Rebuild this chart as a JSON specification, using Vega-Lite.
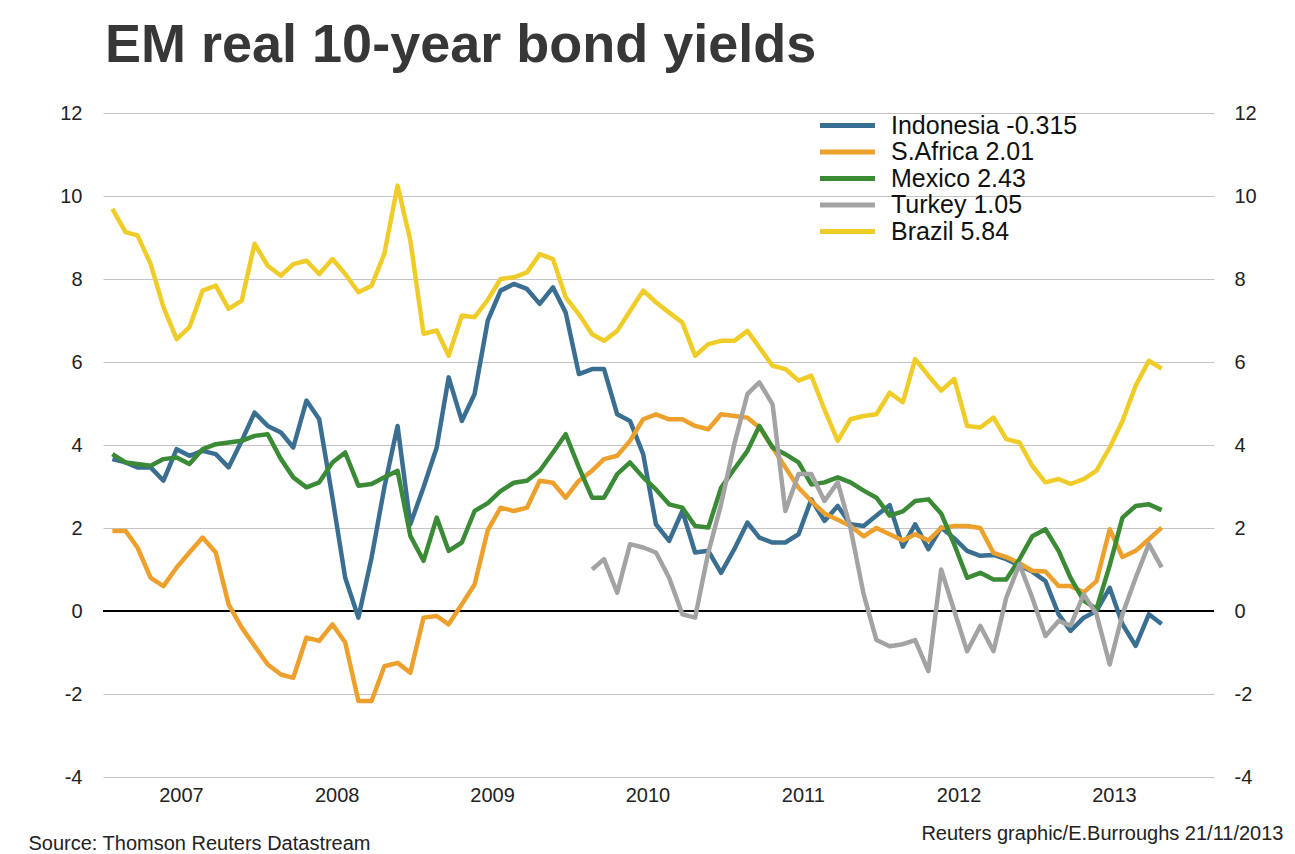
{
  "$schema": "https://vega.github.io/schema/vega-lite/v6.json",
  "width": 1111,
  "height": 664,
  "autosize": {"type": "none"},
  "padding": {"left": 103, "top": 113, "right": 81, "bottom": 77},
  "background": "white",
  "config": {"view": {"stroke": null}, "font": "Liberation Sans"},
  "title": {
    "text": "EM real 10-year bond yields",
    "anchor": "start",
    "frame": "group",
    "font": "Liberation Sans",
    "fontSize": 54,
    "fontWeight": "bold",
    "color": "#373737",
    "baseline": "alphabetic",
    "offset": -13,
    "dx": 2
  },
  "data": {
    "values": [
      {"d": "2007-01-15", "Indonesia": 3.66, "SAfrica": 1.93, "Mexico": 3.78, "Turkey": null, "Brazil": 9.69},
      {"d": "2007-02-15", "Indonesia": 3.58, "SAfrica": 1.93, "Mexico": 3.58, "Turkey": null, "Brazil": 9.13},
      {"d": "2007-03-15", "Indonesia": 3.46, "SAfrica": 1.53, "Mexico": 3.54, "Turkey": null, "Brazil": 9.05},
      {"d": "2007-04-15", "Indonesia": 3.46, "SAfrica": 0.8, "Mexico": 3.5, "Turkey": null, "Brazil": 8.36},
      {"d": "2007-05-15", "Indonesia": 3.14, "SAfrica": 0.6, "Mexico": 3.66, "Turkey": null, "Brazil": 7.32},
      {"d": "2007-06-15", "Indonesia": 3.9, "SAfrica": 1.05, "Mexico": 3.7, "Turkey": null, "Brazil": 6.55},
      {"d": "2007-07-15", "Indonesia": 3.74, "SAfrica": 1.41, "Mexico": 3.54, "Turkey": null, "Brazil": 6.84},
      {"d": "2007-08-15", "Indonesia": 3.86, "SAfrica": 1.77, "Mexico": 3.9, "Turkey": null, "Brazil": 7.72},
      {"d": "2007-09-15", "Indonesia": 3.78, "SAfrica": 1.41, "Mexico": 4.02, "Turkey": null, "Brazil": 7.84},
      {"d": "2007-10-15", "Indonesia": 3.46, "SAfrica": 0.16, "Mexico": 4.06, "Turkey": null, "Brazil": 7.28},
      {"d": "2007-11-15", "Indonesia": 4.1, "SAfrica": -0.4, "Mexico": 4.1, "Turkey": null, "Brazil": 7.48},
      {"d": "2007-12-15", "Indonesia": 4.78, "SAfrica": -0.84, "Mexico": 4.22, "Turkey": null, "Brazil": 8.85},
      {"d": "2008-01-15", "Indonesia": 4.46, "SAfrica": -1.29, "Mexico": 4.26, "Turkey": null, "Brazil": 8.32},
      {"d": "2008-02-15", "Indonesia": 4.3, "SAfrica": -1.53, "Mexico": 3.66, "Turkey": null, "Brazil": 8.08},
      {"d": "2008-03-15", "Indonesia": 3.94, "SAfrica": -1.61, "Mexico": 3.22, "Turkey": null, "Brazil": 8.36},
      {"d": "2008-04-15", "Indonesia": 5.07, "SAfrica": -0.64, "Mexico": 2.98, "Turkey": null, "Brazil": 8.44},
      {"d": "2008-05-15", "Indonesia": 4.62, "SAfrica": -0.72, "Mexico": 3.1, "Turkey": null, "Brazil": 8.12},
      {"d": "2008-06-15", "Indonesia": 2.73, "SAfrica": -0.32, "Mexico": 3.58, "Turkey": null, "Brazil": 8.48},
      {"d": "2008-07-15", "Indonesia": 0.8, "SAfrica": -0.76, "Mexico": 3.82, "Turkey": null, "Brazil": 8.12},
      {"d": "2008-08-15", "Indonesia": -0.16, "SAfrica": -2.17, "Mexico": 3.02, "Turkey": null, "Brazil": 7.68},
      {"d": "2008-09-15", "Indonesia": 1.29, "SAfrica": -2.17, "Mexico": 3.06, "Turkey": null, "Brazil": 7.84},
      {"d": "2008-10-15", "Indonesia": 2.98, "SAfrica": -1.33, "Mexico": 3.22, "Turkey": null, "Brazil": 8.61},
      {"d": "2008-11-15", "Indonesia": 4.46, "SAfrica": -1.25, "Mexico": 3.38, "Turkey": null, "Brazil": 10.25},
      {"d": "2008-12-15", "Indonesia": 2.09, "SAfrica": -1.49, "Mexico": 1.81, "Turkey": null, "Brazil": 8.93},
      {"d": "2009-01-15", "Indonesia": 2.98, "SAfrica": -0.16, "Mexico": 1.21, "Turkey": null, "Brazil": 6.68},
      {"d": "2009-02-15", "Indonesia": 3.94, "SAfrica": -0.12, "Mexico": 2.25, "Turkey": null, "Brazil": 6.76},
      {"d": "2009-03-15", "Indonesia": 5.63, "SAfrica": -0.32, "Mexico": 1.45, "Turkey": null, "Brazil": 6.15},
      {"d": "2009-04-15", "Indonesia": 4.58, "SAfrica": 0.16, "Mexico": 1.65, "Turkey": null, "Brazil": 7.12},
      {"d": "2009-05-15", "Indonesia": 5.23, "SAfrica": 0.64, "Mexico": 2.41, "Turkey": null, "Brazil": 7.08},
      {"d": "2009-06-15", "Indonesia": 7.0, "SAfrica": 1.95, "Mexico": 2.6, "Turkey": null, "Brazil": 7.5},
      {"d": "2009-07-15", "Indonesia": 7.72, "SAfrica": 2.49, "Mexico": 2.89, "Turkey": null, "Brazil": 8.0},
      {"d": "2009-08-15", "Indonesia": 7.88, "SAfrica": 2.41, "Mexico": 3.09, "Turkey": null, "Brazil": 8.04},
      {"d": "2009-09-15", "Indonesia": 7.76, "SAfrica": 2.49, "Mexico": 3.14, "Turkey": null, "Brazil": 8.16},
      {"d": "2009-10-15", "Indonesia": 7.4, "SAfrica": 3.14, "Mexico": 3.38, "Turkey": null, "Brazil": 8.6},
      {"d": "2009-11-15", "Indonesia": 7.8, "SAfrica": 3.09, "Mexico": 3.82, "Turkey": null, "Brazil": 8.48},
      {"d": "2009-12-15", "Indonesia": 7.19, "SAfrica": 2.73, "Mexico": 4.26, "Turkey": null, "Brazil": 7.56},
      {"d": "2010-01-15", "Indonesia": 5.71, "SAfrica": 3.14, "Mexico": 3.46, "Turkey": null, "Brazil": 7.15},
      {"d": "2010-02-15", "Indonesia": 5.83, "SAfrica": 3.38, "Mexico": 2.73, "Turkey": 1.0, "Brazil": 6.67},
      {"d": "2010-03-15", "Indonesia": 5.83, "SAfrica": 3.66, "Mexico": 2.73, "Turkey": 1.25, "Brazil": 6.51},
      {"d": "2010-04-15", "Indonesia": 4.74, "SAfrica": 3.74, "Mexico": 3.3, "Turkey": 0.44, "Brazil": 6.75},
      {"d": "2010-05-15", "Indonesia": 4.58, "SAfrica": 4.1, "Mexico": 3.58, "Turkey": 1.61, "Brazil": 7.23},
      {"d": "2010-06-15", "Indonesia": 3.78, "SAfrica": 4.62, "Mexico": 3.22, "Turkey": 1.53, "Brazil": 7.72},
      {"d": "2010-07-15", "Indonesia": 2.09, "SAfrica": 4.74, "Mexico": 2.93, "Turkey": 1.41, "Brazil": 7.44},
      {"d": "2010-08-15", "Indonesia": 1.69, "SAfrica": 4.62, "Mexico": 2.57, "Turkey": 0.8, "Brazil": 7.19},
      {"d": "2010-09-15", "Indonesia": 2.41, "SAfrica": 4.62, "Mexico": 2.49, "Turkey": -0.08, "Brazil": 6.95},
      {"d": "2010-10-15", "Indonesia": 1.41, "SAfrica": 4.46, "Mexico": 2.05, "Turkey": -0.16, "Brazil": 6.15},
      {"d": "2010-11-15", "Indonesia": 1.45, "SAfrica": 4.38, "Mexico": 2.01, "Turkey": 1.41, "Brazil": 6.43},
      {"d": "2010-12-15", "Indonesia": 0.92, "SAfrica": 4.74, "Mexico": 2.97, "Turkey": 2.57, "Brazil": 6.51},
      {"d": "2011-01-15", "Indonesia": 1.49, "SAfrica": 4.7, "Mexico": 3.42, "Turkey": 4.02, "Brazil": 6.51},
      {"d": "2011-02-15", "Indonesia": 2.13, "SAfrica": 4.66, "Mexico": 3.86, "Turkey": 5.23, "Brazil": 6.75},
      {"d": "2011-03-15", "Indonesia": 1.77, "SAfrica": 4.42, "Mexico": 4.46, "Turkey": 5.51, "Brazil": 6.35},
      {"d": "2011-04-15", "Indonesia": 1.65, "SAfrica": 3.94, "Mexico": 3.94, "Turkey": 4.98, "Brazil": 5.91},
      {"d": "2011-05-15", "Indonesia": 1.65, "SAfrica": 3.46, "Mexico": 3.78, "Turkey": 2.41, "Brazil": 5.83},
      {"d": "2011-06-15", "Indonesia": 1.85, "SAfrica": 2.97, "Mexico": 3.58, "Turkey": 3.3, "Brazil": 5.55},
      {"d": "2011-07-15", "Indonesia": 2.69, "SAfrica": 2.65, "Mexico": 3.05, "Turkey": 3.3, "Brazil": 5.67},
      {"d": "2011-08-15", "Indonesia": 2.17, "SAfrica": 2.35, "Mexico": 3.1, "Turkey": 2.65, "Brazil": 4.85},
      {"d": "2011-09-15", "Indonesia": 2.53, "SAfrica": 2.2, "Mexico": 3.22, "Turkey": 3.1, "Brazil": 4.1},
      {"d": "2011-10-15", "Indonesia": 2.09, "SAfrica": 2.05, "Mexico": 3.1, "Turkey": 2.0, "Brazil": 4.62},
      {"d": "2011-11-15", "Indonesia": 2.05, "SAfrica": 1.8, "Mexico": 2.9, "Turkey": 0.4, "Brazil": 4.7},
      {"d": "2011-12-15", "Indonesia": 2.3, "SAfrica": 2.0, "Mexico": 2.73, "Turkey": -0.7, "Brazil": 4.74},
      {"d": "2012-01-15", "Indonesia": 2.55, "SAfrica": 1.85, "Mexico": 2.3, "Turkey": -0.85, "Brazil": 5.26},
      {"d": "2012-02-15", "Indonesia": 1.55, "SAfrica": 1.7, "Mexico": 2.4, "Turkey": -0.8, "Brazil": 5.03},
      {"d": "2012-03-15", "Indonesia": 2.09, "SAfrica": 1.85, "Mexico": 2.65, "Turkey": -0.7, "Brazil": 6.07},
      {"d": "2012-04-15", "Indonesia": 1.49, "SAfrica": 1.7, "Mexico": 2.69, "Turkey": -1.45, "Brazil": 5.67},
      {"d": "2012-05-15", "Indonesia": 2.01, "SAfrica": 2.0, "Mexico": 2.35, "Turkey": 1.0, "Brazil": 5.31},
      {"d": "2012-06-15", "Indonesia": 1.75, "SAfrica": 2.05, "Mexico": 1.6, "Turkey": 0.0, "Brazil": 5.59},
      {"d": "2012-07-15", "Indonesia": 1.45, "SAfrica": 2.05, "Mexico": 0.8, "Turkey": -0.97, "Brazil": 4.46},
      {"d": "2012-08-15", "Indonesia": 1.33, "SAfrica": 2.0, "Mexico": 0.92, "Turkey": -0.36, "Brazil": 4.42},
      {"d": "2012-09-15", "Indonesia": 1.35, "SAfrica": 1.4, "Mexico": 0.76, "Turkey": -0.97, "Brazil": 4.66},
      {"d": "2012-10-15", "Indonesia": 1.25, "SAfrica": 1.3, "Mexico": 0.76, "Turkey": 0.32, "Brazil": 4.14},
      {"d": "2012-11-15", "Indonesia": 1.1, "SAfrica": 1.15, "Mexico": 1.25, "Turkey": 1.13, "Brazil": 4.06},
      {"d": "2012-12-15", "Indonesia": 0.95, "SAfrica": 0.97, "Mexico": 1.8, "Turkey": 0.32, "Brazil": 3.5},
      {"d": "2013-01-15", "Indonesia": 0.72, "SAfrica": 0.95, "Mexico": 1.97, "Turkey": -0.6, "Brazil": 3.1},
      {"d": "2013-02-15", "Indonesia": -0.08, "SAfrica": 0.6, "Mexico": 1.45, "Turkey": -0.24, "Brazil": 3.18},
      {"d": "2013-03-15", "Indonesia": -0.48, "SAfrica": 0.6, "Mexico": 0.8, "Turkey": -0.35, "Brazil": 3.06},
      {"d": "2013-04-15", "Indonesia": -0.16, "SAfrica": 0.45, "Mexico": 0.25, "Turkey": 0.4, "Brazil": 3.18},
      {"d": "2013-05-15", "Indonesia": 0.0, "SAfrica": 0.72, "Mexico": 0.05, "Turkey": -0.08, "Brazil": 3.38},
      {"d": "2013-06-15", "Indonesia": 0.56, "SAfrica": 1.97, "Mexico": 1.1, "Turkey": -1.29, "Brazil": 3.94},
      {"d": "2013-07-15", "Indonesia": -0.32, "SAfrica": 1.3, "Mexico": 2.25, "Turkey": -0.08, "Brazil": 4.58},
      {"d": "2013-08-15", "Indonesia": -0.84, "SAfrica": 1.45, "Mexico": 2.53, "Turkey": 0.8, "Brazil": 5.43},
      {"d": "2013-09-15", "Indonesia": -0.08, "SAfrica": 1.73, "Mexico": 2.57, "Turkey": 1.61, "Brazil": 6.03},
      {"d": "2013-10-15", "Indonesia": -0.315, "SAfrica": 2.01, "Mexico": 2.43, "Turkey": 1.05, "Brazil": 5.84}
    ]
  },
  "layer": [
    {
      "mark": {"type": "rule", "color": "#000000", "strokeWidth": 1.5},
      "encoding": {
        "y": {
          "datum": 0,
          "type": "quantitative",
          "scale": {"domain": [-4, 12], "nice": false, "zero": false},
          "axis": {
            "orient": "right",
            "values": [-4, -2, 0, 2, 4, 6, 8, 10, 12],
            "labelExpr": "datum.value < 0 ? '-' + abs(datum.value) : '' + datum.value",
            "grid": false,
            "domain": false,
            "ticks": false,
            "labelPadding": 20,
            "labelFontSize": 20,
            "labelColor": "#222222",
            "labelFont": "Liberation Sans",
            "title": "Reuters graphic/E.Burroughs 21/11/2013",
            "titleAngle": 0,
            "titleAlign": "right",
            "titleBaseline": "middle",
            "titleX": 69,
            "titleY": 720,
            "titleFont": "Liberation Sans",
            "titleFontSize": 20,
            "titleFontWeight": "normal",
            "titleColor": "#222222"
          }
        }
      }
    },
    {
      "transform": [
        {"fold": ["Indonesia", "SAfrica", "Mexico", "Turkey", "Brazil"], "as": ["country", "value"]}
      ],
      "mark": {"type": "line", "strokeWidth": 4.5, "strokeJoin": "round", "strokeCap": "butt"},
      "encoding": {
        "x": {
          "field": "d",
          "type": "temporal",
          "scale": {
            "type": "utc",
            "domain": [
              {"year": 2006, "month": 12, "date": 24, "utc": true},
              {"year": 2014, "month": 2, "date": 15, "utc": true}
            ]
          },
          "axis": {
            "values": [
              {"year": 2007, "month": 6, "date": 25, "utc": true},
              {"year": 2008, "month": 6, "date": 25, "utc": true},
              {"year": 2009, "month": 6, "date": 25, "utc": true},
              {"year": 2010, "month": 6, "date": 25, "utc": true},
              {"year": 2011, "month": 6, "date": 25, "utc": true},
              {"year": 2012, "month": 6, "date": 25, "utc": true},
              {"year": 2013, "month": 6, "date": 25, "utc": true}
            ],
            "labelExpr": "utcFormat(datum.value, '%Y')",
            "grid": false,
            "domain": false,
            "ticks": false,
            "labelPadding": 8,
            "labelFontSize": 20,
            "labelColor": "#222222",
            "labelFont": "Liberation Sans",
            "title": "Source: Thomson Reuters Datastream",
            "titleAnchor": "start",
            "titleAlign": "left",
            "titleBaseline": "middle",
            "titleX": -75,
            "titleY": 66,
            "titleFont": "Liberation Sans",
            "titleFontSize": 20,
            "titleFontWeight": "normal",
            "titleColor": "#222222"
          }
        },
        "y": {
          "field": "value",
          "type": "quantitative",
          "scale": {"domain": [-4, 12], "nice": false, "zero": false},
          "axis": {
            "orient": "left",
            "values": [-4, -2, 0, 2, 4, 6, 8, 10, 12],
            "labelExpr": "datum.value < 0 ? '-' + abs(datum.value) : '' + datum.value",
            "grid": true,
            "gridColor": "#c4c4c4",
            "gridWidth": 1.2,
            "domain": false,
            "ticks": false,
            "labelPadding": 21,
            "labelFontSize": 20,
            "labelColor": "#222222",
            "labelFont": "Liberation Sans",
            "title": null
          }
        },
        "color": {
          "field": "country",
          "type": "nominal",
          "scale": {
            "domain": ["Indonesia", "SAfrica", "Mexico", "Turkey", "Brazil"],
            "range": ["#3b6f92", "#eea02c", "#3a8a36", "#a3a3a3", "#f0cc28"]
          },
          "legend": {
            "orient": "none",
            "legendX": 732,
            "legendY": 0,
            "title": null,
            "padding": 0,
            "symbolType": "M-5,0H5",
            "symbolSize": 121,
            "symbolStrokeWidth": 5,
            "labelOffset": 31,
            "labelFontSize": 25,
            "labelLimit": 400,
            "labelFont": "Liberation Sans",
            "labelColor": "#111111",
            "rowPadding": 0.5,
            "labelExpr": "{'Indonesia': 'Indonesia -0.315', 'SAfrica': 'S.Africa 2.01', 'Mexico': 'Mexico 2.43', 'Turkey': 'Turkey 1.05', 'Brazil': 'Brazil 5.84'}[datum.label]"
          }
        },
        "order": {"field": "d", "type": "temporal"}
      }
    }
  ],
  "resolve": {"scale": {"y": "independent"}}
}
